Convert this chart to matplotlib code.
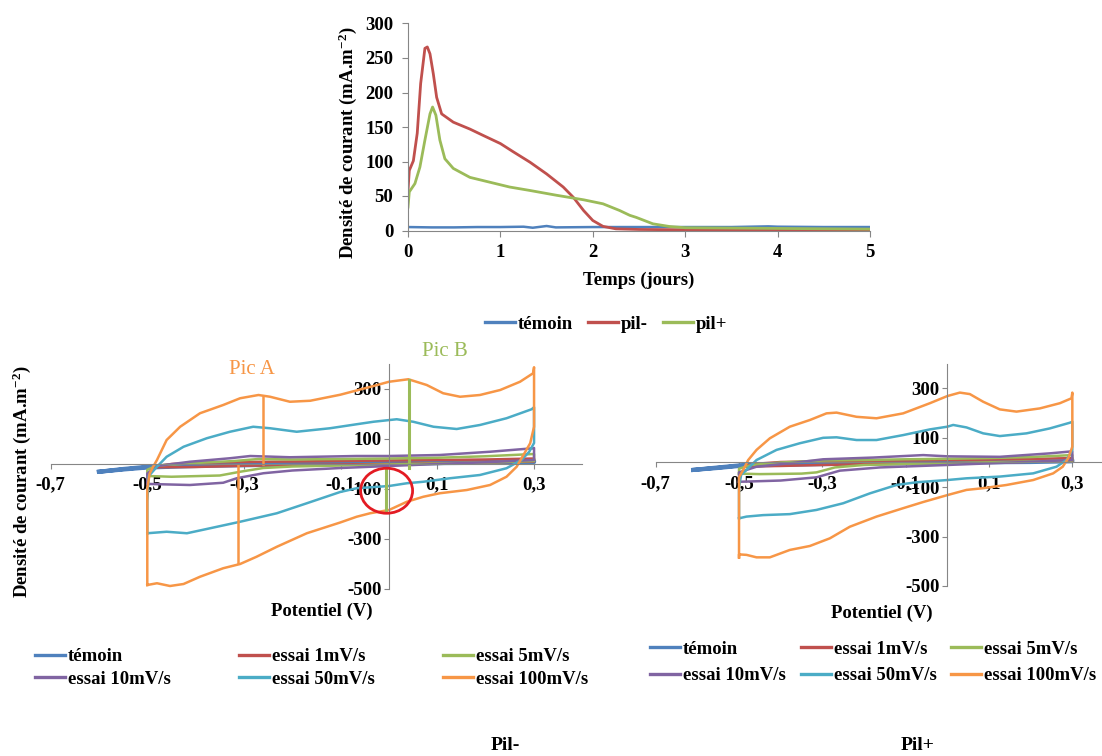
import matplotlib
matplotlib.use("Agg")
import matplotlib.pyplot as plt
from matplotlib.patches import Ellipse

# ---- Donnees : densite de courant en fonction du temps ----
t_temoin = [0, 0.25, 0.5, 0.75, 1.0, 1.25, 1.35, 1.5, 1.6, 2.0, 2.5, 3.0, 3.5, 3.9, 4.0, 4.5, 5.0]
j_temoin = [5, 4.5, 4.5, 5, 5, 5.5, 4, 6.5, 4.5, 5, 5, 5, 5, 6, 5.5, 5, 5]
t_pil_m = [0, 0.014, 0.058, 0.1, 0.137, 0.183, 0.209, 0.238, 0.274, 0.31, 0.364, 0.49, 0.67,
           0.81, 1.0, 1.14, 1.32, 1.5, 1.68, 1.79, 1.9, 2.0, 2.11, 2.25, 2.5, 3.0, 4.0, 5.0]
j_pil_m = [58, 87, 101, 141, 213, 264, 266, 256, 227, 193, 169, 157, 147,
           138, 126, 114, 99, 82, 63, 48, 29, 14.5, 6, 2.4, 1.5, 1, 1, 1]
t_pil_p = [0, 0.014, 0.075, 0.129, 0.183, 0.238, 0.266, 0.302, 0.345, 0.399, 0.49, 0.67, 0.885,
           1.1, 1.32, 1.61, 1.9, 2.11, 2.29, 2.4, 2.47, 2.65, 2.83, 3.0, 4.0, 5.0]
j_pil_p = [34, 56, 68, 92, 131, 169, 179, 167, 131, 104, 90, 77, 70,
           63, 58, 51, 44.5, 38.7, 29, 22, 19, 9.7, 5.8, 4, 3, 2]

# ---- Voltamperometrie : Pil- ----
v_temoin_m = [-0.6, -0.55, -0.5, -0.4, -0.3, -0.2, -0.1, 0.0, 0.1, 0.2, 0.3,
              0.3, 0.2, 0.0, -0.2, -0.4, -0.5, -0.55, -0.6]
i_temoin_m = [-33, -22, -13, -6, -2, 0, 2, 4, 6, 8, 10,
              6, 3, 0, -4, -10, -16, -24, -33]
v_1_m = [-0.48, -0.45, -0.4, -0.3, -0.2, -0.1, 0.0, 0.1, 0.2, 0.3,
         0.3, 0.2, 0.1, 0.0, -0.1, -0.2, -0.3, -0.4, -0.48, -0.48]
i_1_m = [-10, -2, 3, 6, 8, 10, 12, 14, 16, 20,
         8, 4, 1, -2, -4, -6, -9, -14, -15, -10]
v_5_m = [-0.5, -0.5, -0.48, -0.4, -0.32, -0.27, -0.2, -0.1, 0.0, 0.1, 0.2, 0.3,
         0.3, 0.2, 0.1, 0.0, -0.1, -0.2, -0.26, -0.308, -0.35, -0.45, -0.5]
i_5_m = [-50, -25, -8, 2, 10, 18, 16, 18, 20, 23, 29, 38,
         10, 4, 0, -4, -8, -12, -18, -33, -48, -53, -50]
v_10_m = [-0.5, -0.5, -0.48, -0.412, -0.329, -0.287, -0.205, -0.067, 0.0, 0.105, 0.209, 0.298,
          0.3, 0.3, 0.2, 0.1, 0.0, -0.1, -0.2, -0.26, -0.315, -0.343, -0.412, -0.494, -0.5]
i_10_m = [-82, -40, -10, 7, 21, 30, 25, 30, 30, 34, 47, 61,
          62, 14, 5, -2, -10, -18, -28, -39, -59, -77, -86, -82, -82]
v_50_m = [-0.5, -0.5, -0.497, -0.48, -0.46, -0.425, -0.377, -0.329, -0.281, -0.246, -0.191,
          -0.122, -0.067, -0.032, 0.016, 0.05, 0.092, 0.14, 0.188, 0.243, 0.295, 0.3,
          0.3, 0.29, 0.274, 0.243, 0.188, 0.126, 0.071, 0.037, 0.0, -0.067, -0.101,
          -0.17, -0.232, -0.308, -0.37, -0.418, -0.46, -0.5]
i_50_m = [-279, -150, -50, -13, 27, 67, 101, 127, 147, 141, 127,
          141, 157, 167, 177, 167, 147, 138, 154, 181, 217, 225,
          82, 47, 14, -19, -46, -59, -73, -79, -90, -99, -114,
          -159, -199, -233, -259, -279, -273, -279]
v_100_m = [-0.5, -0.5, -0.5, -0.495, -0.488, -0.48, -0.46, -0.432, -0.391, -0.343, -0.308,
           -0.27, -0.246, -0.205, -0.163, -0.101, -0.032, 0.0, 0.04, 0.078, 0.112, 0.147,
           0.188, 0.23, 0.271, 0.298, 0.3,
           0.3, 0.3, 0.292, 0.278, 0.264, 0.243, 0.209, 0.161, 0.105, 0.071, 0.037, 0.0,
           -0.039, -0.067, -0.101, -0.17, -0.232, -0.274, -0.308, -0.343, -0.391, -0.425,
           -0.453, -0.48, -0.5]
i_100_m = [-486, -300, -100, -40, -13, 14, 94, 147, 201, 234, 261,
           274, 267, 247, 251, 275, 310, 327, 337, 314, 281, 267,
           274, 294, 327, 361, 385,
           250, 147, 81, 34, -13, -53, -86, -106, -119, -133, -153, -186,
           -199, -213, -236, -279, -333, -373, -402, -419, -453, -482,
           -490, -479, -486]

# ---- Voltamperometrie : Pil+ ----
v_temoin_p = [-0.61, -0.55, -0.5, -0.4, -0.3, -0.2, -0.1, 0.0, 0.1, 0.2, 0.3,
              0.3, 0.2, 0.0, -0.2, -0.4, -0.5, -0.55, -0.61]
i_temoin_p = [-30, -20, -12, -6, -2, 0, 2, 3, 5, 7, 9,
              5, 2, 0, -4, -9, -14, -22, -30]
v_1_p = [-0.48, -0.45, -0.4, -0.3, -0.2, -0.1, 0.0, 0.1, 0.2, 0.3,
         0.3, 0.2, 0.1, 0.0, -0.1, -0.2, -0.3, -0.4, -0.48, -0.48]
i_1_p = [-12, -4, 2, 5, 7, 8, 10, 12, 14, 18,
         6, 3, 0, -3, -5, -7, -10, -14, -16, -12]
v_5_p = [-0.5, -0.5, -0.47, -0.4, -0.3, -0.2, -0.1, 0.0, 0.1, 0.2, 0.3,
         0.3, 0.2, 0.0, -0.2, -0.27, -0.314, -0.35, -0.45, -0.5]
i_5_p = [-45, -25, -10, 0, 8, 10, 13, 15, 18, 22, 30,
         8, 4, -3, -10, -20, -40, -45, -47, -45]
v_10_p = [-0.5, -0.5, -0.458, -0.378, -0.298, -0.178, -0.058, 0.0, 0.126, 0.246, 0.298,
          0.3, 0.3, 0.2, 0.0, -0.162, -0.258, -0.314, -0.4, -0.498, -0.5]
i_10_p = [-78, -40, -17, -3, 13, 20, 30, 25, 23, 37, 45,
          45, 10, 3, -10, -20, -33, -60, -73, -78, -78]
v_50_p = [-0.5, -0.5, -0.495, -0.482, -0.458, -0.41, -0.354, -0.298, -0.266, -0.218, -0.17,
          -0.106, -0.042, 0.0, 0.014, 0.046, 0.086, 0.126, 0.19, 0.246, 0.294, 0.3,
          0.3, 0.286, 0.262, 0.206, 0.126, 0.046, 0.0, -0.074, -0.122, -0.186, -0.25,
          -0.314, -0.378, -0.442, -0.482, -0.5]
i_50_p = [-226, -100, -50, -30, 10, 51, 78, 100, 102, 91, 91,
          111, 134, 145, 152, 142, 118, 107, 118, 138, 161, 165,
          51, 10, -17, -44, -57, -64, -71, -80, -91, -125, -165,
          -192, -209, -213, -219, -226]
v_100_p = [-0.5, -0.5, -0.5, -0.49, -0.478, -0.458, -0.426, -0.378, -0.33, -0.29, -0.266,
           -0.218, -0.17, -0.106, -0.042, 0.0, 0.03, 0.054, 0.086, 0.126, 0.166, 0.222,
           0.27, 0.298, 0.3,
           0.3, 0.3, 0.29, 0.277, 0.254, 0.206, 0.142, 0.086, 0.046, 0.0, -0.058, -0.106,
           -0.17, -0.234, -0.282, -0.33, -0.378, -0.426, -0.458, -0.482, -0.5, -0.5]
i_100_p = [-384, -200, -60, -30, 10, 51, 98, 145, 172, 199, 202,
           185, 179, 199, 240, 269, 283, 277, 246, 215, 206, 219,
           240, 260, 283,
           150, 64, 17, -17, -44, -71, -91, -104, -111, -132, -160, -185,
           -219, -260, -307, -338, -354, -384, -384, -374, -372, -384]

# Pics reperes sur Pil- (x, y debut, y fin)
pic_a = [(-0.26, 0, 267), (-0.312, -6, -399)]
pic_b = [(0.041, -19, 334), (-0.007, -26, -193)]

labels_cv = ["témoin", "essai 1mV/s", "essai 5mV/s",
             "essai 10mV/s", "essai 50mV/s", "essai 100mV/s"]
labels_t = ["témoin", "pil-", "pil+"]
x_ticks = [-0.7, -0.5, -0.3, -0.1, 0.1, 0.3]
x_ticklabels = ["-0,7", "-0,5", "-0,3", "-0,1", "0,1", "0,3"]
y_ticks = [-500, -300, -100, 100, 300]

c_blue = "#4F81BD"
c_red = "#C0504D"
c_green = "#9BBB59"
c_purple = "#8064A2"
c_teal = "#4BACC6"
c_orange = "#F79646"
c_axis = "#868686"

plt.rcParams.update({
    "font.family": ["Liberation Serif", "DejaVu Serif"],
    "font.weight": "bold",
    "mathtext.default": "regular",
    "axes.unicode_minus": False,
})

W, H = 1102, 756
fig = plt.figure(figsize=(W / 100, H / 100), dpi=100)


def fx(px):
    return px / W


def fy(py):
    return 1 - py / H


# ---- Graphique du haut ----
ax = fig.add_axes([fx(408), fy(230.5), fx(462), 207 / H])
ax.plot(t_temoin, j_temoin, color=c_blue, lw=1.8, label=labels_t[0])
ax.plot(t_pil_m, j_pil_m, color=c_red, lw=2.0, label=labels_t[1])
ax.plot(t_pil_p, j_pil_p, color=c_green, lw=2.0, label=labels_t[2])
ax.set_xlim(0, 5)
ax.set_ylim(0, 300)
ax.set_xticks(range(0, 6))
ax.set_yticks(range(0, 301, 50))
for s in ["top", "right"]:
    ax.spines[s].set_visible(False)
for s in ["left", "bottom"]:
    ax.spines[s].set_color(c_axis)
    ax.spines[s].set_linewidth(0.8)
ax.tick_params(colors=c_axis, labelcolor="black", labelsize=13.5, length=4.5, width=0.8)
ax.tick_params(axis="y", pad=6)
ax.tick_params(axis="x", pad=5)
fig.text(fx(348), fy(143), "Densité de courant (mA.m$^{-2}$)", rotation=90,
         ha="center", va="center", fontsize=13.5)
fig.text(fx(639), fy(280), "Temps (jours)", ha="center", va="center", fontsize=13.5)
leg = fig.legend(*ax.get_legend_handles_labels(), loc="center", ncol=3,
                 bbox_to_anchor=(fx(606), fy(324)), frameon=False, fontsize=13.5,
                 handlelength=1.6, handletextpad=0.15, columnspacing=0.8, borderpad=0)
for ln in leg.get_lines():
    ln.set_linewidth(2.4)


def cv_axes(rect, series):
    a = fig.add_axes(rect)
    colors = [c_blue, c_red, c_green, c_purple, c_teal, c_orange]
    for (v, i), c, lab in zip(series, colors, labels_cv):
        lw = 3.0 if c == c_blue else 1.8
        a.plot(v, i, color=c, lw=lw, label=lab)
    a.set_xlim(-0.7, 0.4)
    a.set_ylim(-500, 400)
    a.spines["left"].set_position(("data", 0))
    a.spines["bottom"].set_position(("data", 0))
    for s in ["top", "right"]:
        a.spines[s].set_visible(False)
    for s in ["left", "bottom"]:
        a.spines[s].set_color(c_axis)
        a.spines[s].set_linewidth(0.8)
    a.set_xticks(x_ticks, x_ticklabels)
    a.set_yticks(y_ticks, [str(y) for y in y_ticks])
    a.tick_params(colors=c_axis, labelcolor="black", labelsize=13.5, length=3.5, width=0.8)
    a.tick_params(axis="x", pad=6)
    a.tick_params(axis="y", pad=2)
    a.patch.set_visible(False)
    return a


def cv_legend(a, anchor, colsp, labsp):
    h, l = a.get_legend_handles_labels()
    order = [0, 3, 1, 4, 2, 5]  # remplissage par lignes
    lg = fig.legend([h[k] for k in order], [l[k] for k in order], loc="center left",
                    ncol=3, bbox_to_anchor=anchor, frameon=False, fontsize=13.5,
                    handlelength=1.6, handletextpad=0.15, columnspacing=colsp,
                    labelspacing=labsp, borderpad=0, borderaxespad=0)
    for ln in lg.get_lines():
        ln.set_linewidth(2.4)


# ---- Pil- ----
series_m = [(v_temoin_m, i_temoin_m), (v_1_m, i_1_m), (v_5_m, i_5_m),
            (v_10_m, i_10_m), (v_50_m, i_50_m), (v_100_m, i_100_m)]
ax_m = cv_axes([fx(50.6), fy(588.5), 531.8 / W, 225 / H], series_m)
for x, y0, y1 in pic_a:
    ax_m.plot([x, x], [y0, y1], color=c_orange, lw=1.8)
for x, y0, y1 in pic_b:
    ax_m.plot([x, x], [y0, y1], color=c_green, lw=2.2)
ax_m.add_patch(Ellipse((-0.005, -109), 0.1075, 180, fill=False,
                       edgecolor="#E31B23", lw=2.0, zorder=5))
fig.text(fx(252), fy(369), "Pic A", color=c_orange, fontweight="normal",
         fontsize=15, ha="center", va="center")
fig.text(fx(445), fy(352), "Pic B", color=c_green, fontweight="normal",
         fontsize=15, ha="center", va="center")
fig.text(fx(22), fy(482), "Densité de courant (mA.m$^{-2}$)", rotation=90,
         ha="center", va="center", fontsize=13.5)
fig.text(fx(322), fy(611), "Potentiel (V)", ha="center", va="center", fontsize=13.5)
cv_legend(ax_m, (fx(35), fy(668)), 3.65, 0.3)
fig.text(fx(505), fy(746), "Pil-", ha="center", va="center", fontsize=14)

# ---- Pil+ ----
series_p = [(v_temoin_p, i_temoin_p), (v_1_p, i_1_p), (v_5_p, i_5_p),
            (v_10_p, i_10_p), (v_50_p, i_50_p), (v_100_p, i_100_p)]
ax_p = cv_axes([fx(655.7), fy(586), 458.3 / W, 222.3 / H], series_p)
fig.text(fx(882), fy(613), "Potentiel (V)", ha="center", va="center", fontsize=13.5)
cv_legend(ax_p, (fx(650), fy(662.5)), 0.8, 0.5)
fig.text(fx(918), fy(746), "Pil+", ha="center", va="center", fontsize=14)

fig.savefig("out.png", dpi=100)
